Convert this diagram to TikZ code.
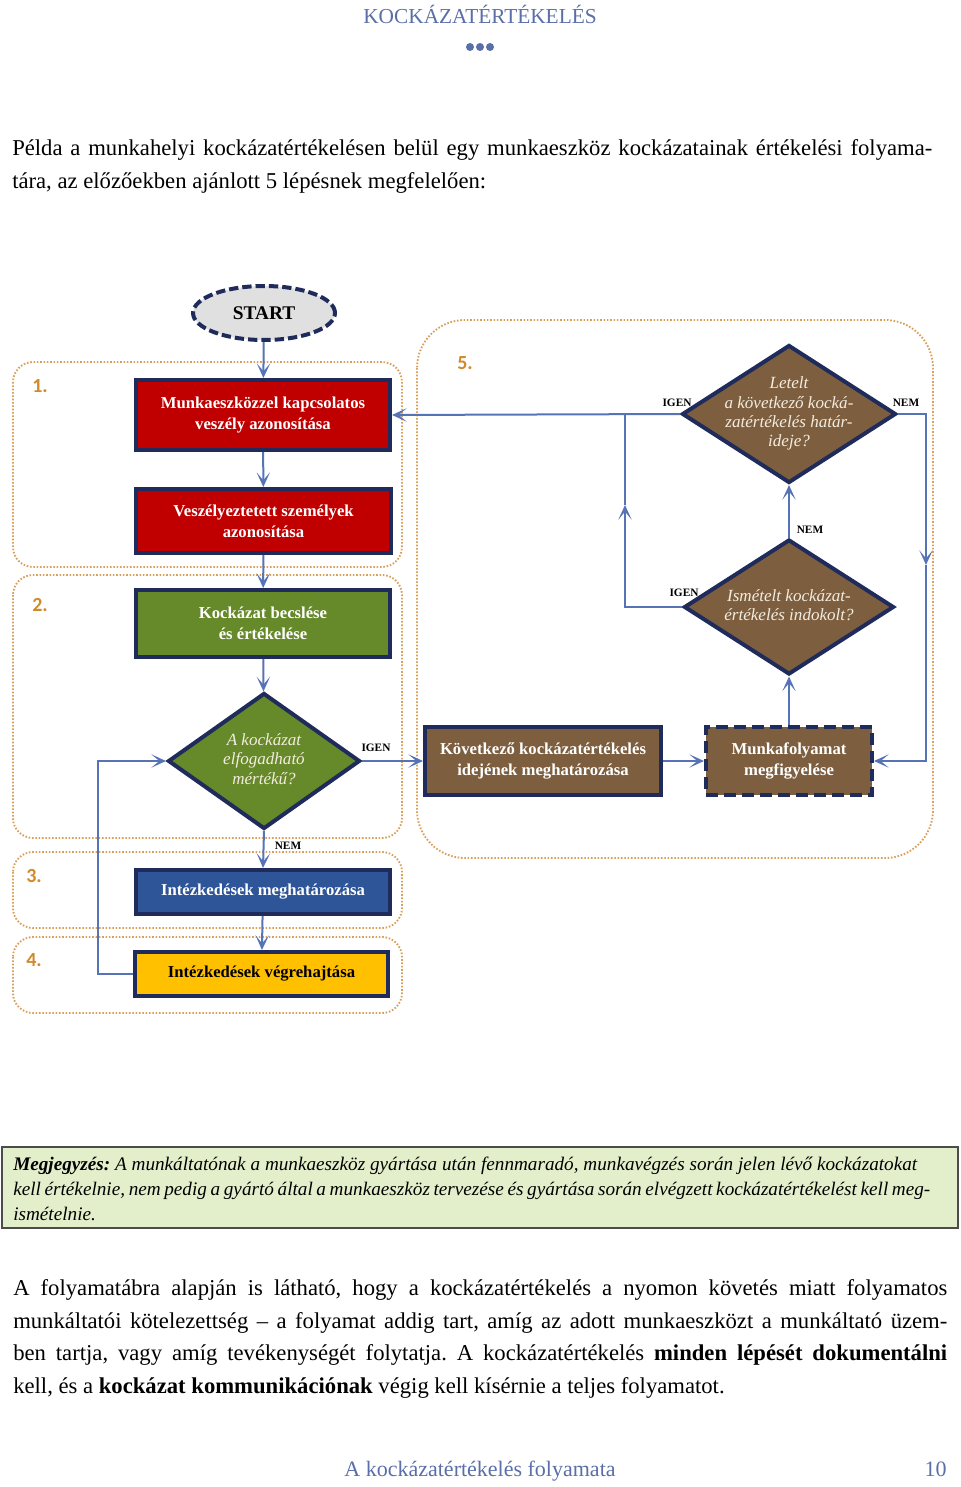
\documentclass[tikz,border=0pt]{standalone}
\usepackage{fontspec}
\setmainfont{Liberation Serif}
\newfontfamily\numfont{Carlito}
\usetikzlibrary{shapes.geometric,arrows.meta}
\newdimen\px \px=0.75pt
\definecolor{navy}{HTML}{1F2B5B}
\definecolor{arrowc}{HTML}{5573B5}
\definecolor{redbox}{HTML}{C00000}
\definecolor{greenbox}{HTML}{66892A}
\definecolor{bluebox}{HTML}{2D5597}
\definecolor{goldbox}{HTML}{FFC000}
\definecolor{brownbox}{HTML}{7D5F40}
\definecolor{dotc}{HTML}{D9A05B}
\definecolor{numc}{HTML}{D08A2C}
\definecolor{hdr}{HTML}{5A6EA8}
\definecolor{notefill}{HTML}{E3EFCB}
\definecolor{cream}{HTML}{F3ECDF}
\definecolor{startfill}{HTML}{E0E0E0}
\newcommand\dtext[1]{\makebox[0pt]{\begin{tabular}{@{}c@{}}#1\end{tabular}}}
\frenchspacing
\begin{document}
\begin{tikzpicture}[x=0.75pt,y=-0.75pt,
  stepbox/.style={draw=navy, line width=3pt, inner sep=0pt, align=center, text=white,
    font=\fontsize{12.5}{15.75}\selectfont\bfseries},
  dia/.style={diamond, draw=navy, line width=3pt, inner sep=0pt, text=cream,
    font=\fontsize{12.8}{14.5}\selectfont\itshape},
  grp/.style={draw=dotc, line width=1.4pt, dash pattern=on 1.2pt off 1.3pt, rounded corners=15pt},
  arr/.style={draw=arrowc, line width=1.5pt, -{Stealth[length=11pt,width=10pt,inset=6pt]}},
  ln/.style={draw=arrowc, line width=1.5pt},
  lbl/.style={font=\fontsize{8.5}{10}\selectfont\bfseries, inner sep=0pt},
  num/.style={font=\numfont\fontsize{15}{18}\selectfont\bfseries, text=numc, inner sep=0pt},
  body/.style={font=\fontsize{17}{24}\selectfont, inner sep=0pt, anchor=base west},
  note/.style={font=\fontsize{14.4}{19}\selectfont\itshape, inner sep=0pt, anchor=base west},
  ftr/.style={font=\fontsize{16.5}{20}\selectfont, text=hdr, inner sep=0pt, anchor=base}]
\useasboundingbox (0,0) rectangle (960,1487);

% header
\node[font=\fontsize{16}{20}\selectfont, text=hdr, inner sep=0pt, anchor=base] (h1) at (480,24) {KOCKÁZATÉRTÉKELÉS};
\fill[hdr] (470,47) circle (3pt) (480,47) circle (3pt) (490,47) circle (3pt);

\node[body] (p1a) at (12,156) {\makebox[920\px][s]{Példa a munkahelyi kockázatértékelésen belül egy munkaeszköz kockázatainak értékelési folyama-}};
\node[body] (p1b) at (12,189) {tára, az előzőekben ajánlott 5 lépésnek megfelelően:};

% group frames
\draw[grp] (13,362) rectangle (402,567);
\draw[grp] (13,575) rectangle (402,838);
\draw[grp] (13,852) rectangle (402,928);
\draw[grp] (13,937) rectangle (402,1013);
\draw[grp, rounded corners=36pt] (417,320) rectangle (933,858);
\node[num] (n1) at (40,386) {1.};
\node[num] (n2) at (40,605) {2.};
\node[num] (n3) at (34,876) {3.};
\node[num] (n4) at (34,960) {4.};
\node[num] (n5) at (465,363) {5.};

% nodes
\node[ellipse, draw=navy, fill=startfill, line width=3pt, dash pattern=on 7pt off 3pt,
  minimum width=142\px, minimum height=54\px, inner sep=0pt,
  font=\fontsize{14.5}{16}\selectfont\bfseries] (start) at (264,313) {START};
\node[stepbox, fill=redbox, minimum width=254\px, minimum height=70\px] (b1) at (263,415)
  {Munkaeszközzel kapcsolatos\\veszély azonosítása};
\node[stepbox, fill=redbox, minimum width=255\px, minimum height=64\px] (b2) at (263.5,521)
  {Veszélyeztetett személyek\\azonosítása};
\node[stepbox, fill=greenbox, minimum width=254\px, minimum height=67\px] (b3) at (263,623.5)
  {Kockázat becslése\\és értékelése};
\node[dia, fill=greenbox, minimum width=192\px, minimum height=136\px] (d1) at (264,761)
  {\dtext{A kockázat\\elfogadható\\mértékű?}};
\node[stepbox, fill=bluebox, minimum width=254\px, minimum height=44\px] (b4) at (263,892)
  {Intézkedések meghatározása};
\node[stepbox, fill=goldbox, text=black, minimum width=253\px, minimum height=44\px] (b5) at (261.5,974)
  {Intézkedések végrehajtása};

\node[dia, fill=brownbox, minimum width=214\px, minimum height=138\px] (d2) at (789,414)
  {\dtext{Letelt\\a következő kocká-\\zatértékelés határ-\\ideje?}};
\node[dia, fill=brownbox, minimum width=210\px, minimum height=135\px] (d3) at (789,607)
  {\dtext{Ismételt kockázat-\\értékelés indokolt?}};
\node[stepbox, fill=brownbox, minimum width=236\px, minimum height=68\px] (b6) at (543,761)
  {Következő kockázatértékelés\\idejének meghatározása};
\node[stepbox, fill=brownbox, dash pattern=on 9pt off 4.5pt, minimum width=166\px, minimum height=68\px] (b7) at (789,761)
  {Munkafolyamat\\megfigyelése};

% labels
\node[lbl] (l1) at (376,748) {IGEN};
\node[lbl] (l2) at (288,846) {NEM};
\node[lbl] (l3) at (677,403) {IGEN};
\node[lbl] (l4) at (906,403) {NEM};
\node[lbl] (l5) at (684,593) {IGEN};
\node[lbl] (l6) at (810,530) {NEM};

% connectors
\coordinate (fb) at (98,870);
\coordinate (m1) at (625,505);
\coordinate (j1) at (625,414);
\coordinate (m2) at (926,565);
\draw[arr] (start) -- (b1);
\draw[arr] (b1) -- (b2);
\draw[arr] (b2) -- (b3);
\draw[arr] (b3) -- (d1);
\draw[arr] (d1.east) -- (b6.west);
\draw[arr] (d1.south) -- (b4.north);
\draw[arr] (b4) -- (b5);
\draw[arr] (b5.west) -| (fb) |- (d1.west);
\draw[arr] (b6.east) -- (b7.west);
\draw[arr] (b7.north) -- (d3.south);
\draw[arr] (d3.north) -- (d2.south);
\draw[arr] (d2.west) -- (b1.east);
\draw[arr] (d3.west) -| (m1);
\draw[ln] (m1) -- (j1);
\draw[arr] (d2.east) -| (m2);
\draw[arr] (m2) |- (b7.east);

% note
\draw[draw=black!70, fill=notefill, line width=1pt] (2,1147) rectangle (958,1228);
\node[note] (nt1) at (13,1170.5) {\makebox[904\px][s]{\textbf{Megjegyzés:} A munkáltatónak a munkaeszköz gyártása után fennmaradó, munkavégzés során jelen lévő kockázatokat}};
\node[note] (nt2) at (13,1195.5) {\makebox[917\px][s]{kell értékelnie, nem pedig a gyártó által a munkaeszköz tervezése és gyártása során elvégzett kockázatértékelést kell meg-}};
\node[note] (nt3) at (13,1220.5) {ismételnie.};

% paragraph
\node[body] (p2a) at (13,1295) {\makebox[934\px][s]{A folyamatábra alapján is látható, hogy a kockázatértékelés a nyomon követés miatt folyamatos}};
\node[body] (p2b) at (13,1328) {\makebox[934\px][s]{munkáltatói kötelezettség – a folyamat addig tart, amíg az adott munkaeszközt a munkáltató üzem-}};
\node[body] (p2c) at (13,1360) {\makebox[934\px][s]{ben tartja, vagy amíg tevékenységét folytatja. A kockázatértékelés \textbf{minden lépését dokumentálni}}};
\node[body] (p2d) at (13,1393) {kell, és a \textbf{kockázat kommunikációnak} végig kell kísérnie a teljes folyamatot.};

% footer
\node[ftr] (f1) at (480,1476) {A kockázatértékelés folyamata};
\node[ftr, anchor=base east] (f2) at (947,1476) {10};
\end{tikzpicture}
\end{document}
